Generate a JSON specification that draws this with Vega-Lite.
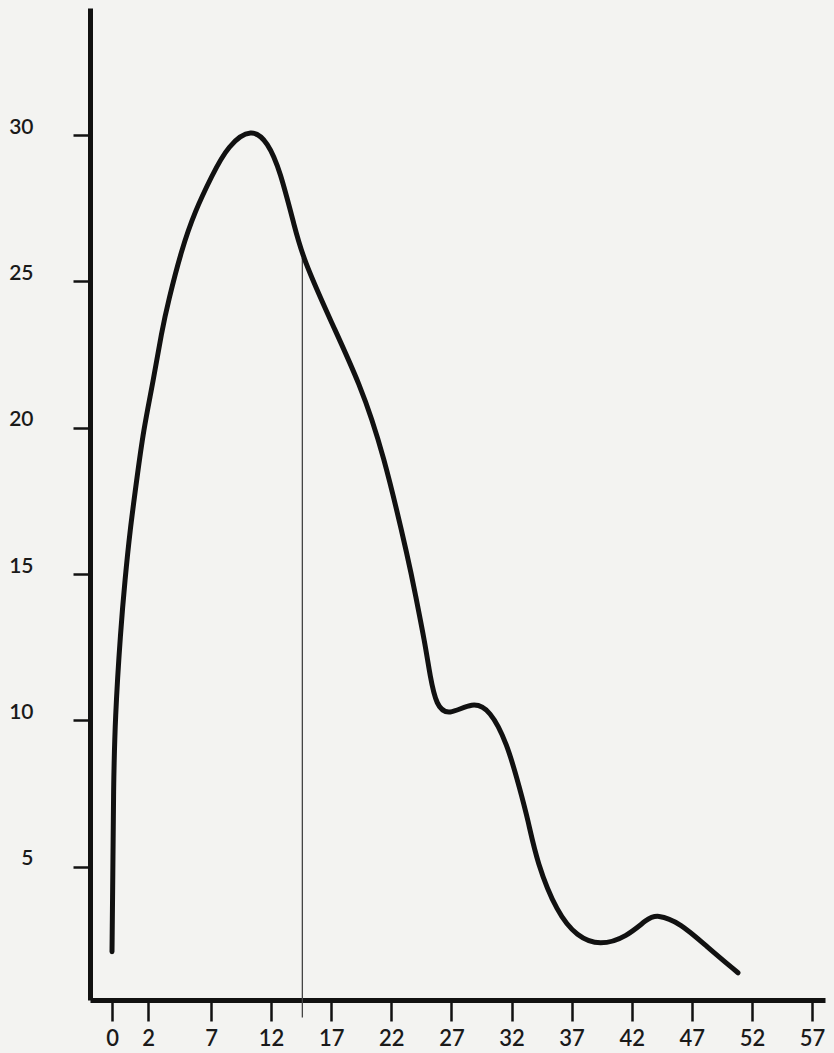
{
  "$schema": "https://vega.github.io/schema/vega-lite/v6.json",
  "width": 735,
  "height": 992,
  "autosize": {"type": "none"},
  "padding": {"left": 90, "top": 8, "right": 9, "bottom": 53},
  "background": "#f3f3f1",
  "config": {
    "view": {"stroke": null},
    "axis": {"grid": false, "labelFont": "Lato", "labelFontWeight": 600, "labelColor": "#1a1a1a", "domainColor": "#111", "tickColor": "#111", "title": null}
  },
  "layer": [
    {
      "data": {"values": [{"x": 14.6, "top": 25.8, "bottom": -0.15}]},
      "mark": {"type": "rule", "color": "#444", "strokeWidth": 1.3},
      "encoding": {
        "x": {"field": "x", "type": "quantitative"},
        "y": {"field": "top", "type": "quantitative"},
        "y2": {"field": "bottom"}
      }
    },
    {
      "data": {"values": [
        {"x": 0.0, "y": 2.1},
        {"x": 0.05, "y": 4.9},
        {"x": 0.08, "y": 7.6},
        {"x": 0.17, "y": 10.1},
        {"x": 0.48, "y": 13.1},
        {"x": 0.72, "y": 14.8},
        {"x": 1.0, "y": 16.5},
        {"x": 1.37, "y": 18.2},
        {"x": 1.74, "y": 19.9},
        {"x": 2.42, "y": 21.6},
        {"x": 3.09, "y": 23.3},
        {"x": 3.6, "y": 24.3},
        {"x": 4.67, "y": 26.1},
        {"x": 5.73, "y": 27.4},
        {"x": 7.06, "y": 28.6},
        {"x": 8.41, "y": 29.65},
        {"x": 10.39, "y": 30.25},
        {"x": 11.74, "y": 29.75},
        {"x": 12.74, "y": 28.8},
        {"x": 13.99, "y": 26.8},
        {"x": 14.65, "y": 25.8},
        {"x": 16.9, "y": 23.7},
        {"x": 19.4, "y": 21.5},
        {"x": 21.31, "y": 19.2},
        {"x": 23.56, "y": 15.25},
        {"x": 23.97, "y": 14.36},
        {"x": 24.8, "y": 12.65},
        {"x": 25.23, "y": 11.5},
        {"x": 25.75, "y": 10.5},
        {"x": 26.72, "y": 10.15},
        {"x": 28.8, "y": 10.65},
        {"x": 30.21, "y": 10.36},
        {"x": 31.63, "y": 9.23},
        {"x": 32.7, "y": 7.65},
        {"x": 33.37, "y": 6.61},
        {"x": 34.12, "y": 5.14},
        {"x": 35.79, "y": 3.43},
        {"x": 37.45, "y": 2.61},
        {"x": 39.36, "y": 2.3},
        {"x": 41.61, "y": 2.61},
        {"x": 43.27, "y": 3.22},
        {"x": 44.1, "y": 3.38},
        {"x": 46.02, "y": 3.09},
        {"x": 48.26, "y": 2.27},
        {"x": 50.84, "y": 1.38}
      ]},
      "mark": {"type": "line", "interpolate": "basis", "color": "#111", "strokeWidth": 5, "strokeCap": "round", "strokeJoin": "round"},
      "encoding": {
        "x": {
          "field": "x", "type": "quantitative",
          "scale": {"domain": [-1.22, 0, 2, 7, 58.08], "range": [0, 22, 58, 121, 735], "zero": false, "nice": false},
          "axis": {"values": [0, 2, 7, 12, 17, 22, 27, 32, 37, 42, 47, 52, 57], "domainWidth": 5, "tickWidth": 2.5, "tickSize": 21, "labelPadding": 7, "labelFontSize": 22, "labelBaseline": "top", "labelFlush": false, "labelOverlap": false}
        },
        "y": {
          "field": "y", "type": "quantitative",
          "scale": {"domain": [0.45, 34.34], "zero": false, "nice": false},
          "axis": {"values": [5, 10, 15, 20, 25, 30], "domainWidth": 5, "tickWidth": 2.5, "tickSize": 17, "labelPadding": 40, "labelFontSize": 21, "labelOffset": -8, "labelFlush": false, "labelOverlap": false}
        }
      }
    }
  ]
}
